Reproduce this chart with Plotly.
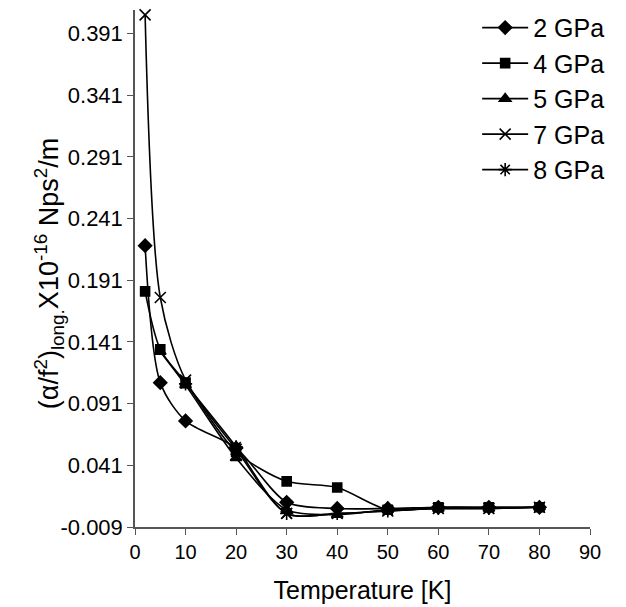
import plotly.graph_objects as go

# temperatures (K) for each series
temp_2 = [2, 5, 10, 20, 30, 40, 50, 60, 70, 80]
temp_4 = [2, 5, 10, 20, 30, 40, 50, 60, 70, 80]
temp_5 = [5, 10, 20, 30, 40, 50, 60, 70, 80]
temp_7 = [2, 5, 10, 20, 30, 40, 50, 60, 70, 80]
temp_8 = [10, 20, 30, 40, 50, 60, 70, 80]

# attenuation values (x10^-16 Nps^2/m)
gpa_2 = [0.219, 0.108, 0.077, 0.055, 0.011, 0.006, 0.006, 0.007, 0.007, 0.007]
gpa_4 = [0.182, 0.135, 0.108, 0.052, 0.028, 0.023, 0.005, 0.007, 0.007, 0.007]
gpa_5 = [0.133, 0.106, 0.047, 0.005, 0.001, 0.005, 0.006, 0.006, 0.007]
gpa_7 = [0.406, 0.177, 0.110, 0.054, 0.002, 0.002, 0.004, 0.006, 0.006, 0.007]
gpa_8 = [0.107, 0.056, 0.002, 0.002, 0.004, 0.006, 0.006, 0.007]

y_ticks = [-0.009, 0.041, 0.091, 0.141, 0.191, 0.241, 0.291, 0.341, 0.391]
y_labels = ['-0.009', '0.041', '0.091', '0.141', '0.191', '0.241', '0.291', '0.341', '0.391']
x_ticks = [0, 10, 20, 30, 40, 50, 60, 70, 80, 90]

series = [
    ('2 GPa', temp_2, gpa_2, 'diamond', 10),
    ('4 GPa', temp_4, gpa_4, 'square', 9),
    ('5 GPa', temp_5, gpa_5, 'triangle-up', 10),
    ('7 GPa', temp_7, gpa_7, 'x-thin', 11),
    ('8 GPa', temp_8, gpa_8, 'asterisk', 11),
]

fig = go.Figure()
for name, xs, ys, sym, size in series:
    fig.add_trace(go.Scatter(
        x=xs, y=ys, name=name, mode='lines+markers',
        line=dict(color='black', width=1.6, shape='spline', smoothing=0.8),
        marker=dict(symbol=sym, size=size, color='black',
                    line=dict(color='black', width=1.6)),
        cliponaxis=False,
    ))

# page body has an 8px margin, so the figure is sized to fit the window
font = 'Liberation Sans, Arial, sans-serif'
fig.update_layout(
    width=618, height=599,
    margin=dict(l=127, r=36, t=2, b=80, autoexpand=False),
    plot_bgcolor='white', paper_bgcolor='white',
    font=dict(family=font, color='black', size=20),
    showlegend=True,
    legend=dict(x=0.752, y=1.01, xanchor='left', yanchor='top',
                font=dict(size=25), bgcolor='rgba(0,0,0,0)',
                tracegroupgap=0, itemwidth=46),
)
fig.add_annotation(
    text='(α/f<sup>2</sup>)<sub>long.</sub>X10<sup>-16</sup> Nps<sup>2</sup>/m',
    xref='paper', yref='paper', x=-0.19, y=0.49,
    xanchor='center', yanchor='middle', textangle=-90,
    showarrow=False, font=dict(size=27),
)
fig.update_xaxes(
    range=[0, 90], tickvals=x_ticks, ticks='outside', ticklen=6,
    showline=True, linecolor='#555', linewidth=1.5, showgrid=False,
    zeroline=False, tickcolor='#555', automargin=False,
    tickfont=dict(size=20),
    title=dict(text='Temperature [K]', font=dict(size=25), standoff=20),
)
fig.update_yaxes(
    range=[-0.009, 0.41], tickvals=y_ticks, ticktext=y_labels,
    ticks='outside', ticklen=6, showline=True, linecolor='#555',
    linewidth=1.5, showgrid=False, zeroline=False, tickcolor='#555',
    automargin=False, tickfont=dict(size=22),
)

fig.write_html('out.html')
